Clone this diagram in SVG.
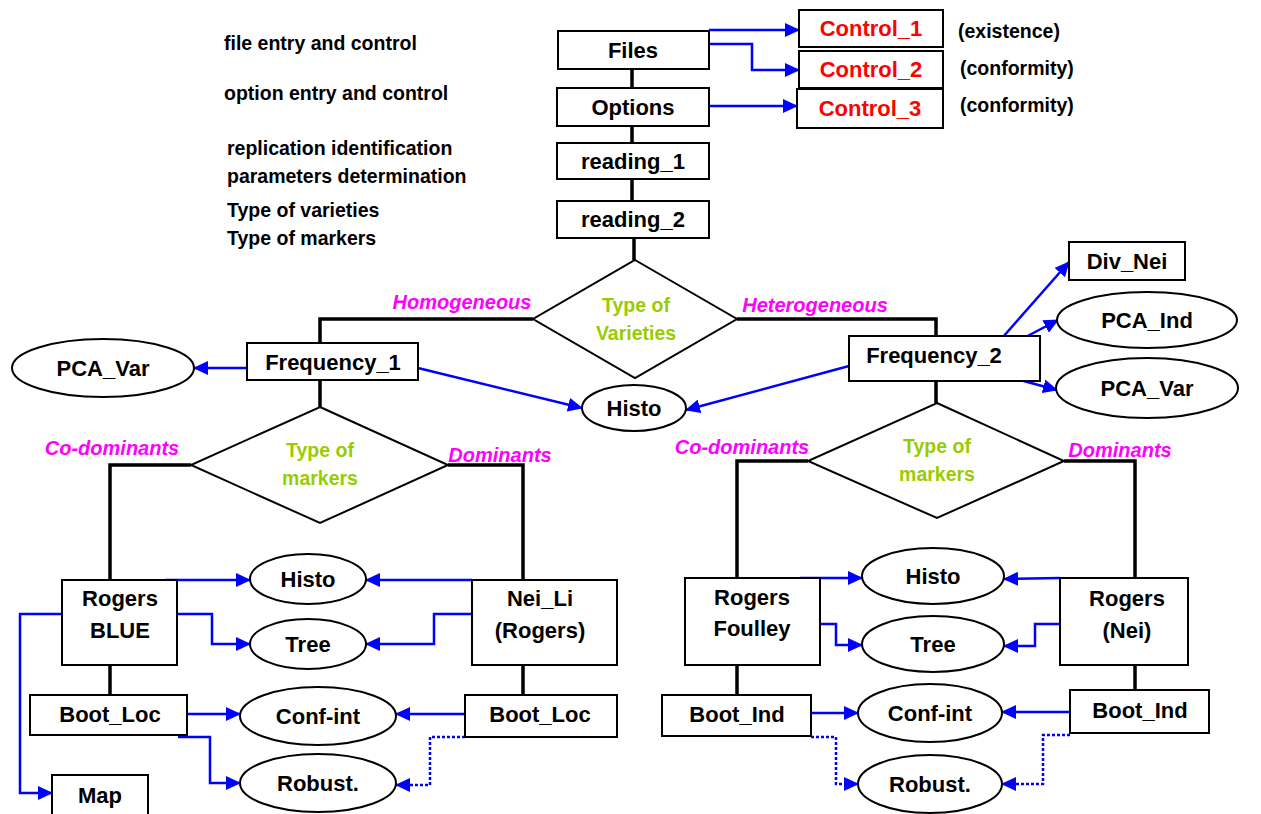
<svg xmlns="http://www.w3.org/2000/svg" width="1261" height="814" viewBox="0 0 1261 814">
<defs>
<marker id="ah" markerUnits="userSpaceOnUse" markerWidth="15" markerHeight="14" refX="14" refY="7" orient="auto">
<path d="M0,0 L15,7 L0,14 z" fill="#0000ff"/>
</marker>
<style>
.box{fill:#fff;stroke:#000;stroke-width:2}
.el{fill:#fff;stroke:#000;stroke-width:2}
.dia{fill:#fff;stroke:#000;stroke-width:2}
text{font-family:"Liberation Sans",Arial,Helvetica,sans-serif;font-weight:bold}
.t{font-size:22px;text-anchor:middle;fill:#000}
.ctl{fill:#ff0000}
.ann{font-size:19.5px;fill:#000}
.dt{font-size:19.5px;fill:#99cc00;text-anchor:middle}
.lab{font-size:20px;fill:#ff00ff;font-style:italic;text-anchor:middle}
.k{stroke:#000;stroke-width:3.5;fill:none}
.b{stroke:#0000ff;stroke-width:2.5;fill:none;marker-end:url(#ah)}
.d{stroke-dasharray:3 2}
</style>
</defs>
<rect width="1261" height="814" fill="#fff"/>

<g id="annotations">
<text class="ann" x="224" y="50">file entry and control</text>
<text class="ann" x="224" y="100">option entry and control</text>
<text class="ann" x="227" y="155">replication identification</text>
<text class="ann" x="227" y="183">parameters determination</text>
<text class="ann" x="227" y="217">Type of varieties</text>
<text class="ann" x="227" y="245">Type of markers</text>
<text class="ann" x="958" y="38">(existence)</text>
<text class="ann" x="960" y="75">(conformity)</text>
<text class="ann" x="960" y="112">(conformity)</text>
<text class="lab" x="462" y="309">Homogeneous</text>
<text class="lab" x="815" y="312">Heterogeneous</text>
<text class="lab" x="112" y="455">Co-dominants</text>
<text class="lab" x="500" y="462">Dominants</text>
<text class="lab" x="742" y="454">Co-dominants</text>
<text class="lab" x="1120" y="457">Dominants</text>
</g>

<g id="connectors">
<path class="k" d="M632 69V88M632 126V143M632 179V201M634 238V260"/>
<path class="k" d="M533 319H320V343M737 319H936V336"/>
<path class="k" d="M320 380V407M936 381V403"/>
<path class="k" d="M191 465H110V580M448 465H523V580M808 461H737V578M1064 461H1135V578"/>
<path class="k" d="M110 665V695M523 665V695M737 665V695M1135 665V690"/>
<path class="b" d="M709 30H799"/>
<path class="b" d="M709 44H752V70H799"/>
<path class="b" d="M709 106H797"/>
<path class="b" d="M247 368H194"/>
<path class="b" d="M418 368L582 408"/>
<path class="b" d="M849 366L686 410"/>
<path class="b" d="M1003 337L1069 262"/>
<path class="b" d="M1020 340L1058 320"/>
<path class="b" d="M1020 380L1057 390"/>
<path class="b" d="M165 580H250"/>
<path class="b" d="M177 614H212V644H250"/>
<path class="b" d="M62 614H20V793H52"/>
<path class="b" d="M472 580H366"/>
<path class="b" d="M472 614H434V644H366"/>
<path class="b" d="M178 714H240"/>
<path class="b" d="M178 737H210V783H240"/>
<path class="b" d="M465 714H396"/>
<path class="b d" d="M465 737H430V785H396"/>
<path class="b" d="M800 578H862"/>
<path class="b" d="M820 624H836V645H862"/>
<path class="b" d="M1060 578L1004 579"/>
<path class="b" d="M1060 624H1035V646H1004"/>
<path class="b" d="M811 713H858"/>
<path class="b d" d="M811 737H836V784H858"/>
<path class="b" d="M1070 712H1002"/>
<path class="b d" d="M1070 735H1043V784H1002"/>
</g>

<g id="files"><rect class="box" x="558" y="31" width="151" height="38"/><text class="t" x="633" y="58">Files</text></g>
<g id="options"><rect class="box" x="557" y="88" width="152" height="38"/><text class="t" x="633" y="115">Options</text></g>
<g id="reading1"><rect class="box" x="557" y="143" width="152" height="36"/><text class="t" x="633" y="169">reading_1</text></g>
<g id="reading2"><rect class="box" x="557" y="201" width="152" height="37"/><text class="t" x="633" y="227">reading_2</text></g>
<g id="control1"><rect class="box" x="799" y="10" width="144" height="37"/><text class="t ctl" x="871" y="36">Control_1</text></g>
<g id="control2"><rect class="box" x="799" y="51" width="144" height="37"/><text class="t ctl" x="871" y="77">Control_2</text></g>
<g id="control3"><rect class="box" x="797" y="89" width="146" height="39"/><text class="t ctl" x="870" y="116">Control_3</text></g>

<g id="dia-varieties"><polygon class="dia" points="635,260 737,319 635,378 533,319"/><text class="dt" x="636" y="312">Type of</text><text class="dt" x="636" y="340">Varieties</text></g>
<g id="dia-markers-1"><polygon class="dia" points="320,407 448,465 320,523 191,465"/><text class="dt" x="320" y="457">Type of</text><text class="dt" x="320" y="485">markers</text></g>
<g id="dia-markers-2"><polygon class="dia" points="937,403 1064,461 937,518 808,461"/><text class="dt" x="937" y="453">Type of</text><text class="dt" x="937" y="481">markers</text></g>

<g id="frequency1"><rect class="box" x="247" y="343" width="171" height="37"/><text class="t" x="333" y="370">Frequency_1</text></g>
<g id="frequency2"><rect class="box" x="849" y="336" width="191" height="45"/><text class="t" x="934" y="363">Frequency_2</text></g>
<g id="pcavar1"><ellipse class="el" cx="103" cy="368" rx="91" ry="29"/><text class="t" x="103" y="376">PCA_Var</text></g>
<g id="histo0"><ellipse class="el" cx="634" cy="408" rx="52" ry="23"/><text class="t" x="634" y="416">Histo</text></g>
<g id="divnei"><rect class="box" x="1069" y="242" width="116" height="38"/><text class="t" x="1127" y="269">Div_Nei</text></g>
<g id="pcaind"><ellipse class="el" cx="1147" cy="320" rx="90" ry="28"/><text class="t" x="1147" y="328">PCA_Ind</text></g>
<g id="pcavar2"><ellipse class="el" cx="1147" cy="388" rx="91" ry="30"/><text class="t" x="1147" y="396">PCA_Var</text></g>

<g id="rogersblue"><rect class="box" x="62" y="580" width="115" height="85"/><text class="t" x="120" y="606">Rogers</text><text class="t" x="120" y="638">BLUE</text></g>
<g id="neili"><rect class="box" x="472" y="580" width="145" height="85"/><text class="t" x="540" y="606">Nei_Li</text><text class="t" x="540" y="638">(Rogers)</text></g>
<g id="histo1"><ellipse class="el" cx="308" cy="579" rx="58" ry="25"/><text class="t" x="308" y="587">Histo</text></g>
<g id="tree1"><ellipse class="el" cx="308" cy="644" rx="58" ry="25"/><text class="t" x="308" y="652">Tree</text></g>
<g id="bootloc1"><rect class="box" x="30" y="695" width="157" height="40"/><text class="t" x="110" y="722">Boot_Loc</text></g>
<g id="bootloc2"><rect class="box" x="465" y="695" width="152" height="42"/><text class="t" x="540" y="722">Boot_Loc</text></g>
<g id="confint1"><ellipse class="el" cx="318" cy="716" rx="78" ry="29"/><text class="t" x="318" y="724">Conf-int</text></g>
<g id="robust1"><ellipse class="el" cx="318" cy="783" rx="78" ry="29"/><text class="t" x="318" y="791">Robust.</text></g>
<g id="map"><rect class="box" x="52" y="775" width="96" height="45"/><text class="t" x="100" y="803">Map</text></g>

<g id="rogersfoulley"><rect class="box" x="685" y="578" width="135" height="87"/><text class="t" x="752" y="605">Rogers</text><text class="t" x="752" y="636">Foulley</text></g>
<g id="rogersnei"><rect class="box" x="1060" y="578" width="128" height="87"/><text class="t" x="1127" y="606">Rogers</text><text class="t" x="1127" y="638">(Nei)</text></g>
<g id="histo2"><ellipse class="el" cx="933" cy="576" rx="71" ry="28"/><text class="t" x="933" y="584">Histo</text></g>
<g id="tree2"><ellipse class="el" cx="933" cy="644" rx="71" ry="28"/><text class="t" x="933" y="652">Tree</text></g>
<g id="bootind1"><rect class="box" x="662" y="695" width="149" height="41"/><text class="t" x="737" y="722">Boot_Ind</text></g>
<g id="bootind2"><rect class="box" x="1070" y="690" width="139" height="43"/><text class="t" x="1140" y="718">Boot_Ind</text></g>
<g id="confint2"><ellipse class="el" cx="930" cy="713" rx="72" ry="29"/><text class="t" x="930" y="721">Conf-int</text></g>
<g id="robust2"><ellipse class="el" cx="930" cy="784" rx="72" ry="29"/><text class="t" x="930" y="792">Robust.</text></g>
</svg>
